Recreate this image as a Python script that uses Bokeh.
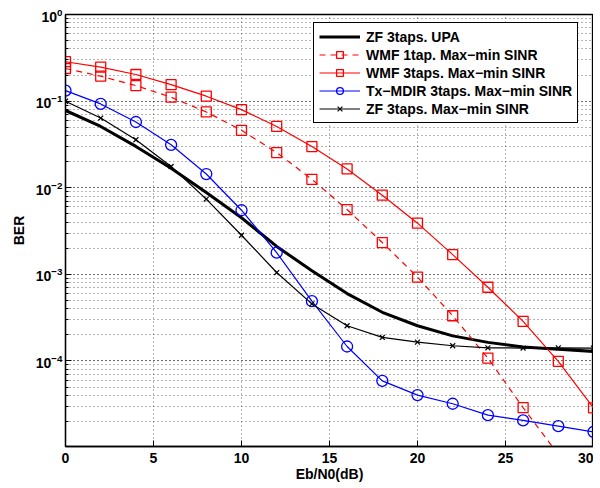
from bokeh.plotting import figure
from bokeh.models import Range1d, Legend, LegendItem, FixedTicker
from bokeh.embed import file_html
from bokeh.resources import INLINE

# Eb/N0 (dB)
ebn0 = [0, 2, 4, 6, 8, 10, 12, 14, 16, 18, 20, 22, 24, 26, 28, 30]

zf_upa = [0.078, 0.051, 0.030, 0.0168, 0.0088, 0.0045, 0.0021, 0.0011, 6.0e-4,
          3.65e-4, 2.55e-4, 1.95e-4, 1.64e-4, 1.45e-4, 1.37e-4, 1.29e-4]
wmf_1tap = [0.238, 0.194, 0.151, 0.111, 0.075, 0.046, 0.0255, 0.0125, 0.0056,
            0.00233, 9.3e-4, 3.33e-4, 1.08e-4, 2.9e-5, 8.3e-6]
wmf_3taps = [0.285, 0.247, 0.203, 0.155, 0.114, 0.0797, 0.051, 0.0299, 0.0165,
             0.0082, 3.9e-3, 1.69e-3, 7.1e-4, 2.87e-4, 9.9e-5, 2.88e-5]
txmdir = [0.132, 0.0928, 0.0574, 0.0313, 0.0144, 0.0055, 0.00178, 4.9e-4, 1.47e-4,
          5.9e-5, 4.04e-5, 3.21e-5, 2.37e-5, 2.06e-5, 1.77e-5, 1.52e-5]
zf_maxmin = [0.0997, 0.0638, 0.0358, 0.0176, 0.0074, 0.00283, 0.00105, 4.56e-4,
             2.55e-4, 1.87e-4, 1.65e-4, 1.50e-4, 1.42e-4, 1.41e-4, 1.42e-4, 1.41e-4]

x_ticks = [0, 5, 10, 15, 20, 25, 30]
labels = ["ZF 3taps. UPA", "WMF 1tap. Max\u2212min SINR", "WMF 3taps. Max\u2212min SINR",
          "Tx\u2212MDIR 3taps. Max\u2212min SINR", "ZF 3taps. Max\u2212min SINR"]

FONT = "Liberation Sans"

p = figure(width=593, height=488, y_axis_type="log",
           x_range=Range1d(0, 30), y_range=Range1d(1.03e-5, 1),
           output_backend="svg", toolbar_location=None,
           min_border_left=65, min_border_top=14, min_border_right=0, min_border_bottom=42)
p.background_fill_color = "white"
p.border_fill_color = "white"
p.outline_line_color = "black"
p.outline_line_width = 1.3
p.outline_line_alpha = 1

# grid
p.xgrid.ticker = FixedTicker(ticks=x_ticks)
for g in (p.xgrid, p.ygrid):
    g.grid_line_color = "#444444"
    g.grid_line_dash = "1 3"
    g.grid_line_width = 1
    g.grid_line_alpha = 0.8
p.ygrid.minor_grid_line_color = "#444444"
p.ygrid.minor_grid_line_dash = "1 3"
p.ygrid.minor_grid_line_alpha = 0.8

# series
r_upa = p.line(ebn0, zf_upa, line_color="black", line_width=3)
r_w1l = p.line(ebn0[:len(wmf_1tap)], wmf_1tap, line_color="red", line_width=1.2, line_dash="6 5")
r_w1m = p.scatter(ebn0[:len(wmf_1tap)], wmf_1tap, marker="square", size=10, line_color="red",
                  fill_color=None, line_width=1.3)
r_w3l = p.line(ebn0, wmf_3taps, line_color="red", line_width=1.2)
r_w3m = p.scatter(ebn0, wmf_3taps, marker="square", size=10, line_color="red",
                  fill_color=None, line_width=1.3)
r_txl = p.line(ebn0, txmdir, line_color="blue", line_width=1.2)
r_txm = p.scatter(ebn0, txmdir, marker="circle", size=11, line_color="blue",
                  fill_color=None, line_width=1.3)
r_zfl = p.line(ebn0, zf_maxmin, line_color="black", line_width=1.2)
r_zfm = p.scatter(ebn0, zf_maxmin, marker="x", size=7, line_color="black", line_width=1.2)

# axes
p.xaxis.ticker = FixedTicker(ticks=x_ticks)
p.xaxis.axis_label = "Eb/N0(dB)"
p.yaxis.axis_label = "BER"
for ax in p.xaxis + p.yaxis:
    ax.major_tick_in = 6
    ax.major_tick_out = 0
    ax.minor_tick_in = 3
    ax.minor_tick_out = 0
    ax.axis_line_width = 1.3
    ax.major_label_text_font = FONT
    ax.major_label_text_font_style = "bold"
    ax.major_label_text_font_size = "14px"
    ax.major_label_text_color = "black"
    ax.axis_label_text_font = FONT
    ax.axis_label_text_font_style = "bold"
    ax.axis_label_text_font_size = "14px"
    ax.axis_label_text_color = "black"
p.xaxis.major_label_standoff = 6
p.xaxis.axis_label_standoff = 0
p.yaxis.major_label_text_font_size = "14px"
p.yaxis.major_label_standoff = 3
p.yaxis.axis_label_standoff = 6
p.xaxis.minor_tick_line_color = None

legend = Legend(items=[
    LegendItem(label=labels[0], renderers=[r_upa]),
    LegendItem(label=labels[1], renderers=[r_w1l, r_w1m]),
    LegendItem(label=labels[2], renderers=[r_w3l, r_w3m]),
    LegendItem(label=labels[3], renderers=[r_txl, r_txm]),
    LegendItem(label=labels[4], renderers=[r_zfl, r_zfm]),
], location=(248, 323))
legend.margin = 0
legend.padding = 5
legend.spacing = 1
legend.glyph_width = 41
legend.glyph_height = 17
legend.label_height = 17
legend.label_standoff = 6
legend.label_text_font = FONT
legend.label_text_font_style = "bold"
legend.label_text_font_size = "14px"
legend.label_text_color = "black"
legend.border_line_color = "black"
legend.border_line_width = 1.3
legend.border_line_alpha = 1
legend.background_fill_color = "white"
legend.background_fill_alpha = 1
p.add_layout(legend)

open("out.html", "w").write(file_html(p, INLINE))
